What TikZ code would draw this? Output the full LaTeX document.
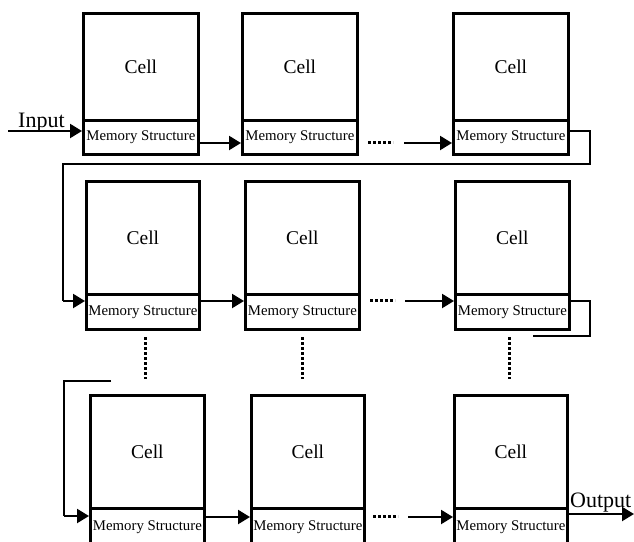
\documentclass[tikz,border=0pt]{standalone}
\usepackage{fontspec}
\usepackage{graphicx}
\setmainfont{Liberation Serif}
\usetikzlibrary{arrows.meta}
\tikzset{
 cellbox/.style={draw, line width=2.8pt, inner sep=0pt, anchor=north west, minimum height=107pt, font=\fontsize{19.5}{22}\selectfont},
 membox/.style={draw, line width=2.8pt, inner sep=0pt, anchor=north west, minimum height=34pt, font=\fontsize{14.8}{16}\selectfont},
 arr/.style={line width=2.2pt, -{Triangle[length=12pt,width=14pt]}},
 loopline/.style={line width=2.6pt},
 dotsline/.style={line width=3pt, dash pattern=on 2.5pt off 2.5pt},
 lbl/.style={font=\fontsize{22}{24}\selectfont, inner sep=0pt, anchor=base west}
}
\newcommand\memtext{Memory Structure}
\begin{document}
\begin{tikzpicture}[x=1pt,y=-1pt]
\useasboundingbox (0,0) rectangle (634,541);
% row 1
\node[cellbox, minimum width=115pt] (c1) at (82,12) {Cell};
\node[membox, minimum width=115pt] (m1) at (82,119) {\memtext};
\node[cellbox, minimum width=115pt] (c2) at (241,12) {Cell};
\node[membox, minimum width=115pt] (m2) at (241,119) {\memtext};
\node[cellbox, minimum width=115pt] (c3) at (452,12) {Cell};
\node[membox, minimum width=115pt] (m3) at (452,119) {\memtext};
% row 2
\node[cellbox, minimum width=113pt, minimum height=113pt] (c4) at (85,180) {Cell};
\node[membox, minimum width=113pt, minimum height=35pt] (m4) at (85,293) {\memtext};
\node[cellbox, minimum width=114pt, minimum height=113pt] (c5) at (244,180) {Cell};
\node[membox, minimum width=114pt, minimum height=35pt] (m5) at (244,293) {\memtext};
\node[cellbox, minimum width=114pt, minimum height=113pt] (c6) at (454,180) {Cell};
\node[membox, minimum width=114pt, minimum height=35pt] (m6) at (454,293) {\memtext};
% row 3
\node[cellbox, minimum width=114pt, minimum height=113pt] (c7) at (89,394) {Cell};
\node[membox, minimum width=114pt, minimum height=37pt] (m7) at (89,507) {\memtext};
\node[cellbox, minimum width=113pt, minimum height=113pt] (c8) at (250,394) {Cell};
\node[membox, minimum width=113pt, minimum height=37pt] (m8) at (250,507) {\memtext};
\node[cellbox, minimum width=113pt, minimum height=113pt] (c9) at (453,394) {Cell};
\node[membox, minimum width=113pt, minimum height=37pt] (m9) at (453,507) {\memtext};
% level coordinates
\coordinate (y131) at (0,131);
\coordinate (y143) at (0,143);
\coordinate (y301) at (0,301);
\coordinate (y517) at (0,517);
\coordinate (y514) at (0,514);
% input
\coordinate (inL) at (8,131);
\node[lbl] (inlbl) at (18,127) {Input};
\draw[arr] (inL) -- (m1.west |- inL);
% row 1 connectors
\draw[arr] (m1.east |- y143) -- (m2.west |- y143);
\coordinate (d1a) at (368,142);
\coordinate (d1b) at (393,142);
\draw[dotsline] (d1a) -- (d1b);
\coordinate (a1) at (404,143);
\draw[arr] (a1) -- (m3.west |- a1);
% loop 1
\coordinate (l1a) at (590,131);
\coordinate (l1b) at (590,164);
\coordinate (l1c) at (63,164);
\coordinate (l1d) at (63,301);
\draw[loopline] (m3.east |- y131) -- (l1a) -- (l1b) -- (l1c) -- (l1d);
\draw[arr] (l1d) -- (m4.west |- l1d);
% row 2 connectors
\draw[arr] (m4.east |- y301) -- (m5.west |- y301);
\coordinate (d2a) at (370,300);
\coordinate (d2b) at (395,300);
\draw[dotsline] (d2a) -- (d2b);
\coordinate (a2) at (405,301);
\draw[arr] (a2) -- (m6.west |- a2);
% loop 2
\coordinate (l2a) at (590,301);
\coordinate (l2b) at (590,336);
\coordinate (l2c) at (533,336);
\draw[loopline] (m6.east |- y301) -- (l2a) -- (l2b) -- (l2c);
% vertical dots
\coordinate (v1a) at (145,337); \coordinate (v1b) at (145,379);
\coordinate (v2a) at (302,337); \coordinate (v2b) at (302,379);
\coordinate (v3a) at (509,337); \coordinate (v3b) at (509,379);
\draw[dotsline] (v1a) -- (v1b);
\draw[dotsline] (v2a) -- (v2b);
\draw[dotsline] (v3a) -- (v3b);
% loop 3
\coordinate (l3a) at (111,381);
\coordinate (l3b) at (64,381);
\coordinate (l3c) at (64,516);
\draw[loopline] (l3a) -- (l3b) -- (l3c);
\draw[arr] (l3c) -- (m7.west |- l3c);
% row 3 connectors
\draw[arr] (m7.east |- y517) -- (m8.west |- y517);
\coordinate (d3a) at (373,516);
\coordinate (d3b) at (398,516);
\draw[dotsline] (d3a) -- (d3b);
\coordinate (a3) at (408,517);
\draw[arr] (a3) -- (m9.west |- a3);
% output
\coordinate (outR) at (634,514);
\draw[arr] (m9.east |- y514) -- (outR);
\node[lbl] (outlbl) at (570,507) {Output};
\end{tikzpicture}
\end{document}
